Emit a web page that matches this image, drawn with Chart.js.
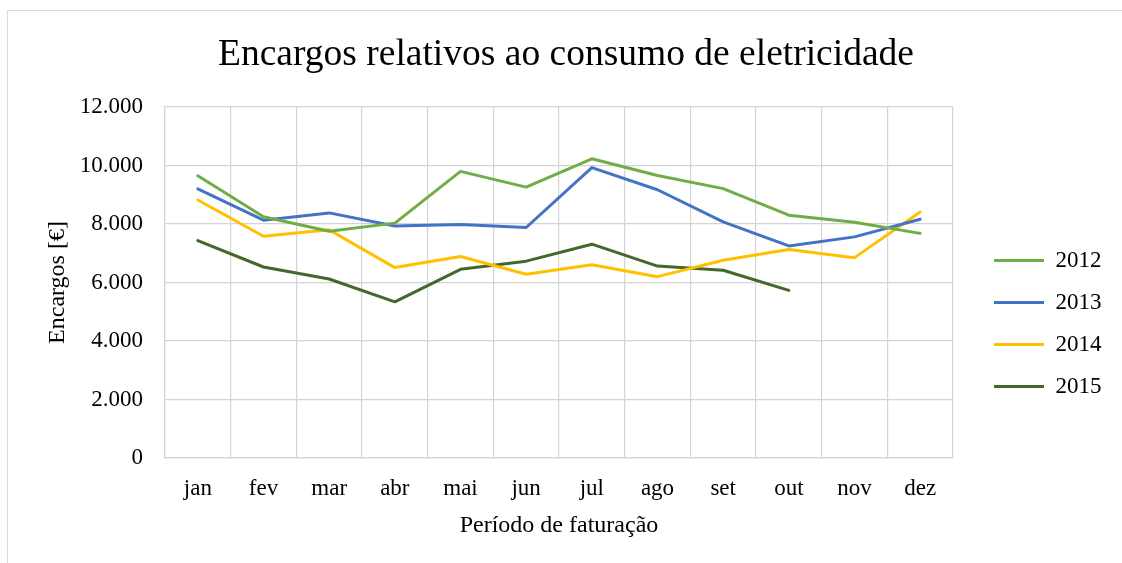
<!DOCTYPE html>
<html lang="pt">
<head>
<meta charset="utf-8">
<title>Encargos relativos ao consumo de eletricidade</title>
<script src="https://cdn.jsdelivr.net/npm/chart.js@4/dist/chart.umd.min.js"></script>
<style>
    html, body { margin: 0; padding: 0; background: #fff; overflow: hidden; }
    #frame {
        position: absolute; left: 7px; top: 10px;
        width: 1200px; height: 600px;
        border: 1px solid #d9d9d9;
    }
    #chart { position: absolute; left: 0; top: 0; }
</style>
</head>
<body>
<div id="frame"></div>
<canvas id="chart" width="1122" height="563"></canvas>

<script>
// =========================
// DADOS
// =========================
const meses = ["jan", "fev", "mar", "abr", "mai", "jun", "jul", "ago", "set", "out", "nov", "dez"];

const enc2012 = [9650, 8250, 7750, 8030, 9800, 9260, 10230, 9660, 9210, 8300, 8060, 7680];
const enc2013 = [9200, 8130, 8380, 7930, 7980, 7880, 9930, 9170, 8070, 7250, 7560, 8160];
const enc2014 = [8820, 7580, 7800, 6510, 6890, 6280, 6610, 6200, 6760, 7130, 6850, 8410];
const enc2015 = [7430, 6530, 6120, 5340, 6450, 6730, 7310, 6560, 6420, 5730, null, null];

const yMin = 0;
const yMax = 12000;
const yStep = 2000;

// =========================
// ESTILO
// =========================
const FONT = '"Liberation Serif", "Times New Roman", serif';
const GRID = "#d4d4d4";

Chart.defaults.font.family = FONT;
Chart.defaults.color = "#000";

// separador de milhares com ponto (12.000)
function formatMil(v) {
    return String(v).replace(/\B(?=(\d{3})+(?!\d))/g, ".");
}

function serie(label, data, color) {
    return {
        label,
        data,
        borderColor: color,
        backgroundColor: color,
        borderWidth: 3,
        borderCapStyle: "round",
        borderJoinStyle: "round",
        pointRadius: 0,
        pointHoverRadius: 0,
        tension: 0,
        spanGaps: false
    };
}

// afasta a legenda da área do gráfico
const legendNudge = {
    id: "legendNudge",
    afterLayout(chart) {
        const lg = chart.legend;
        if (!lg) return;
        lg.left += 22;
        lg.right += 22;
        lg.top += 42;
        lg.bottom += 42;
    }
};

// =========================
// GRAFICO
// =========================
new Chart(document.getElementById("chart"), {
    type: "line",
    data: {
        labels: meses,
        datasets: [
            serie("2012", enc2012, "#70ad47"),
            serie("2013", enc2013, "#4472c4"),
            serie("2014", enc2014, "#ffc000"),
            serie("2015", enc2015, "#43682b")
        ]
    },
    plugins: [legendNudge],
    options: {
        responsive: false,
        animation: false,
        events: [],
        layout: {
            padding: { left: 42.5, right: 32.5, top: 0, bottom: 0 }
        },
        plugins: {
            title: {
                display: true,
                text: "Encargos relativos ao consumo de eletricidade",
                font: { size: 37.5, weight: "normal" },
                padding: { top: 33, bottom: 29 }
            },
            legend: {
                position: "right",
                labels: {
                    usePointStyle: true,
                    pointStyle: "line",
                    pointStyleWidth: 50,
                    padding: 19,
                    font: { size: 23 }
                }
            },
            tooltip: { enabled: false }
        },
        scales: {
            x: {
                offset: true,
                grid: { color: GRID, lineWidth: 1.2, offset: true, drawTicks: false },
                border: { color: GRID, width: 1.2 },
                ticks: { padding: 17, font: { size: 23 } },
                title: {
                    display: true,
                    text: "Período de faturação",
                    font: { size: 24 },
                    padding: { top: 0, bottom: 23 }
                },
                afterFit(scale) { scale.height = 105; }
            },
            y: {
                min: yMin,
                max: yMax,
                grid: { color: GRID, lineWidth: 1.2, drawTicks: false },
                border: { color: GRID, width: 1.2 },
                ticks: {
                    stepSize: yStep,
                    padding: 22,
                    font: { size: 23 },
                    callback: v => formatMil(v)
                },
                title: {
                    display: true,
                    text: "Encargos [€]",
                    font: { size: 24 },
                    padding: { top: 1, bottom: 0 }
                },
                afterFit(scale) { scale.width = 122.5; }
            }
        }
    }
});
</script>
</body>
</html>
